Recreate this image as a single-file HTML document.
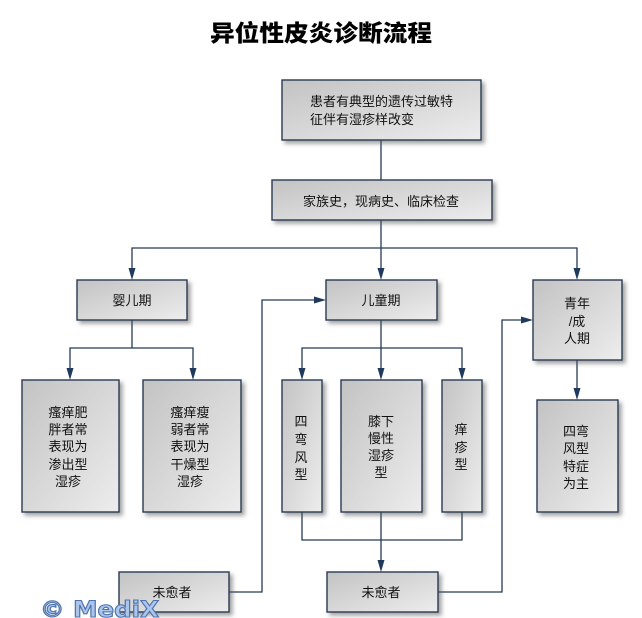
<!DOCTYPE html>
<html><head><meta charset="utf-8">
<style>
html,body{margin:0;padding:0;background:#fff;}
svg{display:block;}
text{font-family:"Liberation Sans","Noto Sans CJK SC",sans-serif;}
.t{font-size:13px;fill:#111;text-anchor:middle;}
.l{stroke:#253a55;stroke-width:1.3;fill:none;}
.b{fill:url(#g);stroke:#2a3b52;stroke-width:1.4;filter:url(#sh);}
.a{fill:#1f3a5c;}
</style></head>
<body>
<svg width="642" height="618" viewBox="0 0 642 618" xmlns="http://www.w3.org/2000/svg">
<defs>
<linearGradient id="g" x1="0" y1="0" x2="1" y2="1">
<stop offset="0" stop-color="#c3c3c3"/>
<stop offset="1" stop-color="#ededed"/>
</linearGradient>
<filter id="sh" x="-20%" y="-20%" width="150%" height="150%">
<feDropShadow dx="3" dy="3" stdDeviation="2" flood-color="#555" flood-opacity="0.55"/>
</filter>
</defs>

<text x="321" y="41" style="font-family:'Noto Sans CJK SC',sans-serif;font-size:23px;font-weight:900;fill:#000" text-anchor="middle" textLength="222" lengthAdjust="spacingAndGlyphs">异位性皮炎诊断流程</text>

<!-- connectors -->
<path class="l" d="M381 140V180"/>
<path class="l" d="M381 220V270"/>
<path class="l" d="M132 270V248H577V270"/>
<path class="l" d="M132 320V348"/>
<path class="l" d="M70 370V348H193V370"/>
<path class="l" d="M381 320V370"/>
<path class="l" d="M302 370V348H462V370"/>
<path class="l" d="M577 360V390"/>
<path class="l" d="M302 512V540H462V512"/>
<path class="l" d="M381 512V562"/>
<path class="l" d="M229 592H262V300H316"/>
<path class="l" d="M438 592H502V320H523"/>

<!-- arrows -->
<polygon class="a" points="128.5,268 135.5,268 132,280"/>
<polygon class="a" points="377.5,268 384.5,268 381,280"/>
<polygon class="a" points="573.5,268 580.5,268 577,280"/>
<polygon class="a" points="66.5,368 73.5,368 70,380"/>
<polygon class="a" points="189.5,368 196.5,368 193,380"/>
<polygon class="a" points="298.5,368 305.5,368 302,380"/>
<polygon class="a" points="377.5,368 384.5,368 381,380"/>
<polygon class="a" points="458.5,368 465.5,368 462,380"/>
<polygon class="a" points="573.5,388 580.5,388 577,400"/>
<polygon class="a" points="377.5,560 384.5,560 381,572"/>
<polygon class="a" points="314,296.5 314,303.5 326,300"/>
<polygon class="a" points="521,316.5 521,323.5 533,320"/>

<!-- boxes -->
<rect class="b" x="282" y="80" width="199" height="60"/>
<rect class="b" x="272" y="180" width="220" height="40"/>
<rect class="b" x="77" y="280" width="110" height="40"/>
<rect class="b" x="326" y="280" width="111" height="40"/>
<rect class="b" x="533" y="280" width="89" height="80"/>
<rect class="b" x="22" y="380" width="97" height="132"/>
<rect class="b" x="143" y="380" width="98" height="132"/>
<rect class="b" x="282" y="380" width="40" height="132"/>
<rect class="b" x="341" y="380" width="81" height="132"/>
<rect class="b" x="442" y="380" width="40" height="132"/>
<rect class="b" x="537" y="400" width="81" height="112"/>
<rect class="b" x="119" y="572" width="110" height="40"/>
<rect class="b" x="327" y="572" width="111" height="40"/>

<!-- texts -->
<text class="t" style="text-anchor:start" x="310" y="106">患者有典型的遗传过敏特</text>
<text class="t" style="text-anchor:start" x="310" y="124">征伴有湿疹样改变</text>
<text class="t" x="381" y="206">家族史，现病史、临床检查</text>
<text class="t" x="132" y="305">婴儿期</text>
<text class="t" x="381" y="305">儿童期</text>
<text class="t" x="577" y="308">青年</text>
<text class="t" x="577" y="326">/成</text>
<text class="t" x="577" y="343">人期</text>

<text class="t" x="68" y="417">瘙痒肥</text>
<text class="t" x="68" y="434">胖者常</text>
<text class="t" x="68" y="451">表现为</text>
<text class="t" x="68" y="469">渗出型</text>
<text class="t" x="68" y="486">湿疹</text>

<text class="t" x="190" y="417">瘙痒瘦</text>
<text class="t" x="190" y="434">弱者常</text>
<text class="t" x="190" y="451">表现为</text>
<text class="t" x="190" y="469">干燥型</text>
<text class="t" x="190" y="486">湿疹</text>

<text class="t" x="301" y="426">四</text>
<text class="t" x="301" y="444">弯</text>
<text class="t" x="301" y="462">风</text>
<text class="t" x="301" y="479">型</text>

<text class="t" x="381" y="426">膝下</text>
<text class="t" x="381" y="443">慢性</text>
<text class="t" x="381" y="460">湿疹</text>
<text class="t" x="381" y="477">型</text>

<text class="t" x="461" y="434">痒</text>
<text class="t" x="461" y="452">疹</text>
<text class="t" x="461" y="469">型</text>

<text class="t" x="576" y="436">四弯</text>
<text class="t" x="576" y="453">风型</text>
<text class="t" x="576" y="471">特症</text>
<text class="t" x="576" y="488">为主</text>

<text class="t" x="172" y="597">未愈者</text>
<text class="t" x="381" y="597">未愈者</text>

<!-- watermark -->
<text x="40" y="617" textLength="119" lengthAdjust="spacingAndGlyphs" style="font-family:'DejaVu Sans',sans-serif;font-size:22px;font-weight:bold;fill:#abc6ea;stroke:#4f74ad;stroke-width:1.1">© MediX</text>
</svg>
</body></html>
